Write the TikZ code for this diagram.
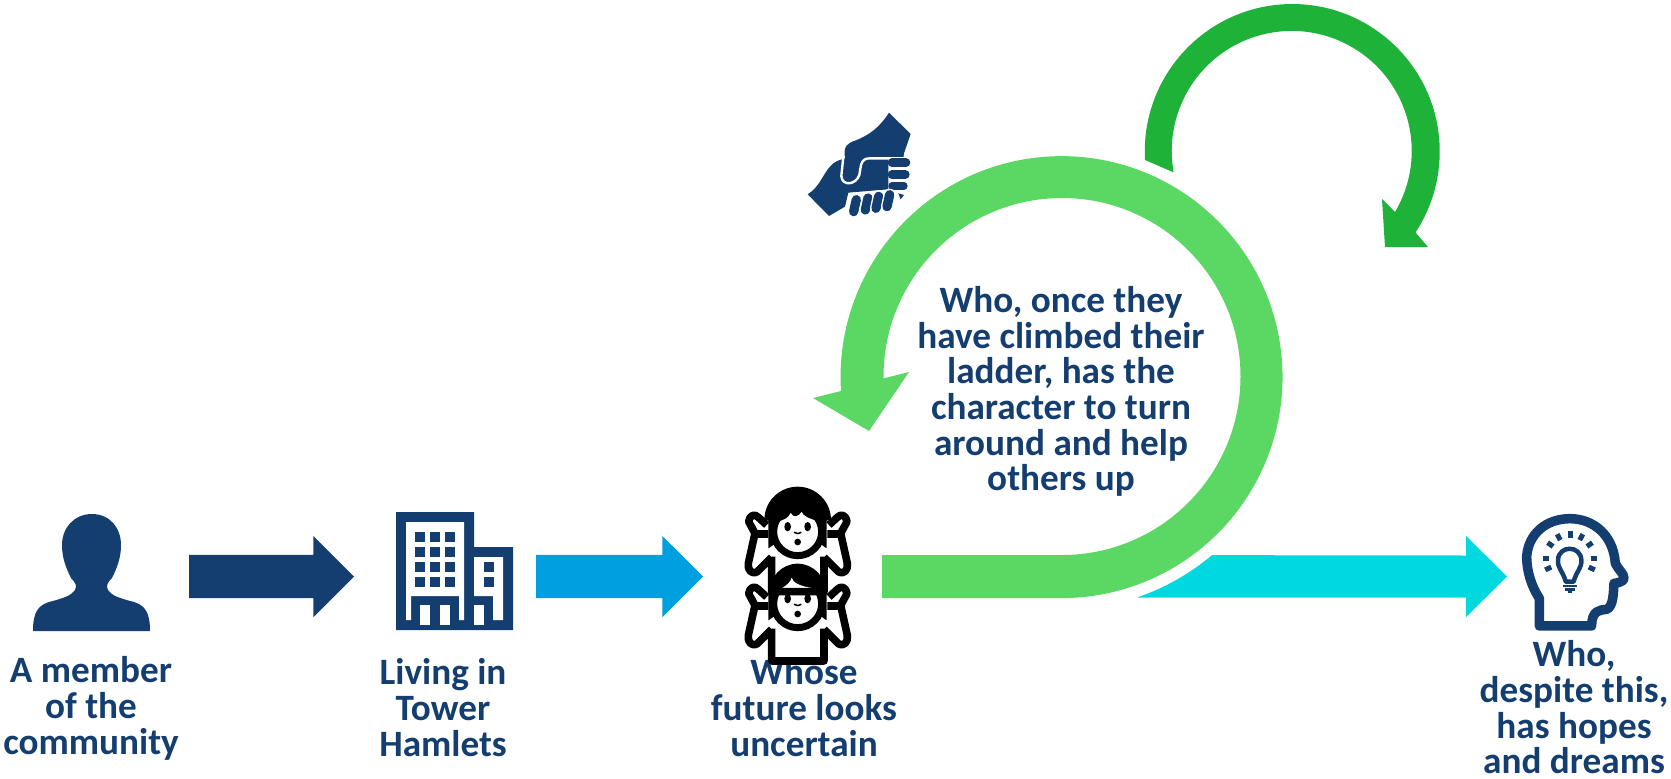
\documentclass[tikz,border=0pt]{standalone}
\usepackage{fontspec}
\setmainfont{Carlito}
\usetikzlibrary{shapes.arrows}
\definecolor{navy}{RGB}{20,62,112}
\definecolor{lightgreen}{RGB}{91,215,100}
\definecolor{darkgreen}{RGB}{31,178,57}
\definecolor{skyblue}{RGB}{0,159,224}
\definecolor{aqua}{RGB}{0,216,224}
\tikzset{
	caption/.style={text=navy,align=center,inner sep=0pt,font=\fontsize{37.2}{35.7}\selectfont\bfseries},
	blockarrow/.style={single arrow,single arrow head extend=19pt,inner sep=0pt,outer sep=0pt,anchor=tail},
}
\def\kidbody#1{
	\draw[line width=7.6pt,line join=round,black]
		(155,230) -- (155,#1) -- (312,#1) -- (312,230)
		(155,232) -- (112,275) .. controls (95,285) and (82,270) .. (85,250) -- (105,160)
		-- (86,125) .. controls (88,105) and (105,100) .. (115,112) -- (140,135)
		(105,162) -- (145,162)
		(312,232) -- (355,275) .. controls (372,285) and (385,270) .. (382,250) -- (362,160)
		-- (381,125) .. controls (379,105) and (362,100) .. (352,112) -- (327,135)
		(362,162) -- (322,162);
	\fill (145,110) -- (145,205) -- (175,185) -- (292,185) -- (320,205) -- (320,110) -- cycle;
	\fill[white] (233,155) circle (64);
	\draw[line width=7pt] (233,155) circle (72);
	\fill (203,140) ellipse (10 and 14) (263,140) ellipse (10 and 14) (233,186) circle (10);
	\draw[line width=1.5pt] (222,157) .. controls (228,162) and (238,162) .. (244,157);
}
\begin{document}
\begin{tikzpicture}[x=1pt,y=-1pt]
	\useasboundingbox (0,0) rectangle (1671,779);
	% straight arrows
	\node[blockarrow,fill=navy,minimum height=165pt] (arrowa) at (189,576.5) {\rule{0pt}{43pt}};
	\node[blockarrow,fill=skyblue,minimum height=167pt] (arrowb) at (536,576.5) {\rule{0pt}{43pt}};
	\fill[aqua] (1137,597.5) arc (71.2:49.9:233) -- (1466,555.5) -- (1466,536) -- (1507,576.5) -- (1466,617) -- (1466,597.5) -- cycle;
	% loops
	\fill[lightgreen] (882,598) -- (882,555) -- (1062,555) arc (90:-180.6:178.5) -- (909,372) -- (869,431) -- (813,398) -- (841,391) arc (-183.6:90:221) -- cycle;
	\fill[darkgreen] (1145,160) arc (-183.3:33.3:147.5) -- (1428,247) -- (1385,247) -- (1382,199) -- (1395,212) arc (30.6:-190.3:120) -- cycle;
	% captions
	\node[caption] (member) at (91,708.5) {A member\\of the\\community};
	\node[caption] (living) at (443,707.5) {Living in\\Tower\\Hamlets};
	\node[caption] (whose) at (804,707.5) {Whose\\future looks\\uncertain};
	\node[caption] (hopes) at (1574,707.5) {Who,\\despite this,\\has hopes\\and dreams};
	\node[caption] (climbed) at (1061,391.5) {Who, once they\\have climbed their\\ladder, has the\\character to turn\\around and help\\others up};
	% member
	\fill[navy] (92,514) .. controls (110,514) and (121,528) .. (121,545) .. controls (121,558) and (117,568) .. (112,578)
		.. controls (107,583) and (106,586) .. (108,590) .. controls (112,596) and (120,598) .. (130,601)
		.. controls (145,604) and (150,612) .. (150,631)
		-- (33,631) .. controls (33,612) and (38,604) .. (53,601) .. controls (63,598) and (71,596) .. (75,590)
		.. controls (77,586) and (76,583) .. (71,578)
		.. controls (66,568) and (62,558) .. (62,545) .. controls (62,528) and (74,514) .. (92,514) -- cycle;
	% tower
	\fill[navy] (396,512) -- (474,512) -- (474,547) -- (513,547) -- (513,630) -- (396,630) -- cycle;
	\fill[white] (406,522) -- (464,522) -- (464,620) -- (459,620) -- (459,596) -- (411,596) -- (411,620) -- (406,620) -- cycle;
	\fill[white] (474,557) -- (503,557) -- (503,620) -- (493,620) -- (493,596) -- (474,596) -- cycle;
	\foreach \wx/\wy/\wh in {420/605/20, 440/605/20, 474/605/20}
	{	\fill[white] (\wx,\wy) rectangle ++(10,\wh);
	}
	\foreach \wx in {415,430,445}
	\foreach \wy in {532,547,562,577}
	{	\fill[navy] (\wx,\wy) rectangle ++(10,10);
	}
	\foreach \wy in {562,577}
	{	\fill[navy] (484,\wy) rectangle ++(10,10);
	}
	% kids
	\begin{scope}[shift={(720,552)},scale=0.3333]
		\kidbody{327}
		\fill (147,125) arc (180:360:86 and 90) -- cycle;
		\fill[white] (172,125) -- (185,109) .. controls (200,100) and (212,90) .. (215,77) .. controls (218,92) and (240,103) .. (282,109) -- (292,125) -- cycle;
	\end{scope}
	\begin{scope}[shift={(720,480)},scale=0.3333]
		\kidbody{335}
		\fill (133,120) arc (180:360:100) -- (297,125) .. controls (270,115) and (250,110) .. (245,95)
			.. controls (235,110) and (220,115) .. (212,98) .. controls (205,115) and (190,120) .. (172,125) -- cycle;
	\end{scope}
	% handshake
	\begin{scope}[shift={(780,90)},scale=0.3333]
		\fill[navy] (327,68) -- (392,132) -- (372,190) -- (370,205) -- (325,205) -- (325,298) -- (205,308) -- (195,350) -- (147,378) -- (83,313)
			.. controls (120,290) and (130,250) .. (150,230) .. controls (165,212) and (180,210) .. (195,205)
			.. controls (190,170) and (200,160) .. (225,152) .. controls (270,135) and (300,110) .. (327,68) -- cycle;
		\draw[white,line width=2.4pt,line cap=round] (190,200) -- (184,258) .. controls (186,290) and (228,285) .. (238,255) -- (243,225) .. controls (248,210) and (255,205) .. (270,205) -- (385,205);
		\draw[navy,line width=8.7pt,line cap=round] (336,218) -- (378,218) (336,254) -- (376,254);
		\draw[navy,line width=7.3pt,line cap=round] (336,288) -- (372,288);
		\fill[navy] (355,310) -- (372,315) -- (362,328) -- cycle;
		\foreach \kx/\ky in {225/347, 260/342, 292/337, 325/332}
		{	\draw[white,line width=12pt,line cap=round] (\kx-4,\ky+18) -- (\kx+4,\ky-18);
			\draw[navy,line width=9.3pt,line cap=round] (\kx-4,\ky+18) -- (\kx+4,\ky-18);
		}
	\end{scope}
	% head
	\begin{scope}[shift={(1500,500)},scale=0.3333]
		\draw[navy,line width=9.5pt,line join=round] (118,378) -- (118,295) .. controls (95,260) and (80,215) .. (80,170)
			.. controls (85,100) and (140,56) .. (210,56) .. controls (280,56) and (340,105) .. (346,190)
			.. controls (355,210) and (372,220) .. (372,235) .. controls (372,245) and (350,250) .. (342,250)
			.. controls (340,280) and (340,320) .. (320,328) .. controls (300,330) and (275,330) .. (275,378) -- cycle;
		\draw[navy,line width=4.5pt,line join=round] (197,245) .. controls (190,215) and (172,205) .. (174,180)
			.. controls (176,135) and (242,135) .. (244,180) .. controls (246,205) and (228,215) .. (221,245) -- cycle;
		\draw[navy,line width=2.5pt] (190,258) -- (230,258) (196,268) -- (224,268) (203,275) -- (217,275);
		\foreach \ra in {-90,-62,-118,-35,-145,0,180,25,155}
		{	\draw[navy,line width=5pt] (210,175) ++(\ra:62) -- ++(\ra:20);
		}
	\end{scope}
\end{tikzpicture}
\end{document}
